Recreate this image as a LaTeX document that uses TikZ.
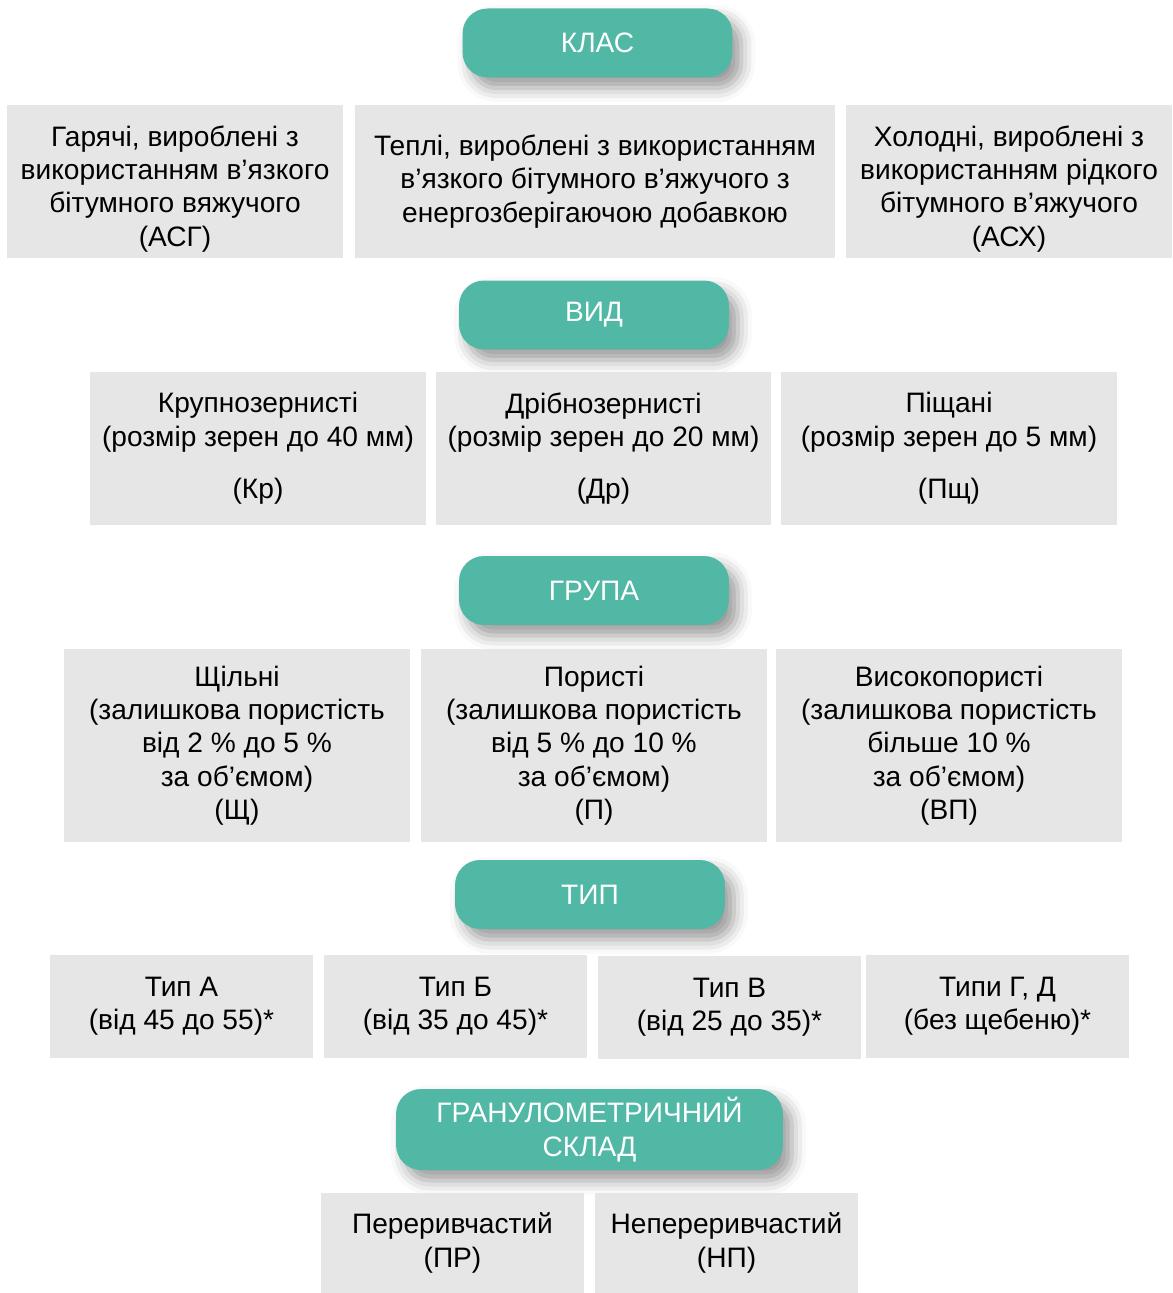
\documentclass[tikz,border=0pt]{standalone}
\usepackage{fontspec}
\setmainfont{Liberation Sans}
\usetikzlibrary{shadows.blur}
\definecolor{pillteal}{HTML}{52B8A6}
\definecolor{boxgrey}{HTML}{E6E6E6}

\begin{document}
\begin{tikzpicture}[
    x=0.02cm, y=-0.02cm,
    every node/.style={font=\fontsize{16}{19}\selectfont, align=center, inner sep=0pt},
    pill/.style={fill=pillteal, text=white, rounded corners=0.5cm, minimum width=5.4cm, minimum height=1.38cm,
        blur shadow={shadow xshift=5pt, shadow yshift=-6pt, shadow blur radius=8pt, shadow opacity=40}},
    cell/.style={fill=boxgrey, minimum height=3.06cm},
    wide/.style={cell, minimum width=6.72cm},
    tall/.style={fill=boxgrey, minimum width=6.92cm, minimum height=3.86cm},
    small/.style={fill=boxgrey, minimum width=5.26cm, minimum height=2.06cm}
]
    \useasboundingbox (0,0) rectangle (1172,1293);

    % class
    \node[pill] (klas) at (597.5,43) {КЛАС};
    \node[wide] (hot) at (175,181.5) {\rule{0pt}{20pt}Гарячі, вироблені з\\використанням в’язкого\\бітумного вяжучого\\(АСГ)};
    \node[cell, minimum width=9.6cm] (warm) at (595,181.5) {Теплі, вироблені з використанням\\в’язкого бітумного в’яжучого з\\енергозберігаючою добавкою};
    \node[cell, minimum width=6.52cm] (cold) at (1009,181.5) {\rule{0pt}{20pt}Холодні, вироблені з\\використанням рідкого\\бітумного в’яжучого\\(АСХ)};

    % kind
    \node[pill] (vyd) at (594,315) {ВИД};
    \node[wide] (coarse) at (258,448.5) {Крупнозернисті\\(розмір зерен до 40 мм)\\[0.38cm](Кр)};
    \node[wide] (fine) at (603.5,448.5) {Дрібнозернисті\\(розмір зерен до 20 мм)\\[0.38cm](Др)};
    \node[wide] (sand) at (949,448.5) {Піщані\\(розмір зерен до 5 мм)\\[0.38cm](Пщ)};

    % group
    \node[pill] (hrupa) at (594,590.5) {ГРУПА};
    \node[tall] (dense) at (237,745.5) {Щільні\\(залишкова пористість\\від 2 \% до 5 \%\\за об’ємом)\\(Щ)};
    \node[tall] (porous) at (594,745.5) {Пористі\\(залишкова пористість\\від 5 \% до 10 \%\\за об’ємом)\\(П)};
    \node[tall] (highpor) at (949,745.5) {Високопористі\\(залишкова пористість\\більше 10 \%\\за об’ємом)\\(ВП)};

    % type
    \node[pill] (typ) at (590,894.5) {ТИП};
    \node[small] (typeA) at (181.5,1006) {Тип А\\(від 45 до 55)*};
    \node[small] (typeB) at (455.5,1006) {Тип Б\\(від 35 до 45)*};
    \node[small] (typeV) at (729.5,1007) {Тип В\\(від 25 до 35)*};
    \node[small] (typeGD) at (997.5,1006) {Типи Г, Д\\(без щебеню)*};

    % grading
    \node[pill, minimum width=7.74cm, minimum height=1.62cm] (gran) at (589.5,1129.5) {ГРАНУЛОМЕТРИЧНИЙ\\СКЛАД};
    \node[small, minimum height=2cm] (gapgr) at (452.5,1243) {Переривчастий\\(ПР)};
    \node[small, minimum height=2cm] (contgr) at (726.5,1243) {Непереривчастий\\(НП)};
\end{tikzpicture}
\end{document}
